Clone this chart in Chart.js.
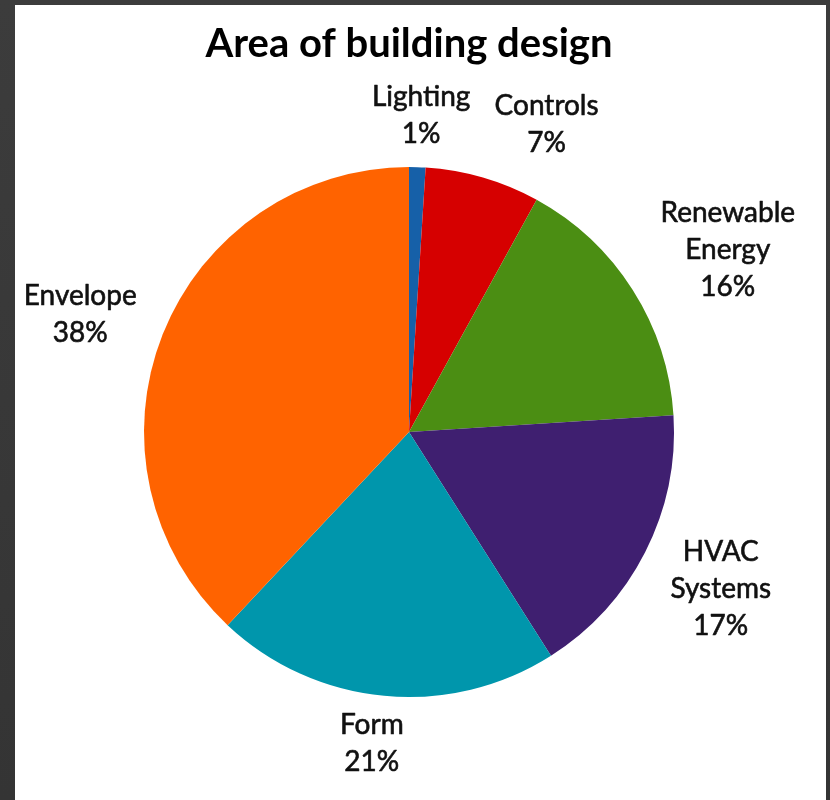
<!DOCTYPE html>
<html>
<head>
<meta charset="utf-8">
<script src="https://cdn.jsdelivr.net/npm/chart.js@4/dist/chart.umd.min.js"></script>
<style>
  html, body { margin: 0; padding: 0; }
  body { width: 830px; height: 800px; background: linear-gradient(180deg, #3c3c3c, #343434); position: relative; overflow: hidden; }
  #panel { position: absolute; left: 15px; top: 5px; width: 811px; height: 795px; background: #ffffff; }
  #chart { display: block; }
</style>
</head>
<body>
<div id="panel"><canvas id="chart" width="811" height="795"></canvas></div>
<script>
// Share of effort by area of building design (percent)
const categories = ['Lighting', 'Controls', 'Renewable Energy', 'HVAC Systems', 'Form', 'Envelope'];
const labelLines = [['Lighting'], ['Controls'], ['Renewable', 'Energy'], ['HVAC', 'Systems'], ['Form'], ['Envelope']];
const shares = [1, 7, 16, 17, 21, 38];
const sliceColors = ['#1660a8', '#d60000', '#4b8e13', '#3f1f70', '#0096ac', '#ff6300'];

// Label placement: distance beyond the rim (px) and angular nudge (deg)
const labelGap = [52, 72, 102, 84, 49, 84];
const labelTurn = [0.4, 7.9, 2.7, -0.3, 1.4, -2.0];

const labelFont = '28px Lato, "Open Sans", sans-serif';
const labelLineHeight = 37;

const outsideLabels = {
  id: 'outsideLabels',
  afterDatasetsDraw(chart) {
    const ctx = chart.ctx;
    const meta = chart.getDatasetMeta(0);
    ctx.save();
    ctx.font = labelFont;
    ctx.fillStyle = '#111111';
    ctx.strokeStyle = '#111111';
    ctx.lineWidth = 0.6;
    ctx.lineJoin = 'round';
    ctx.textAlign = 'center';
    ctx.textBaseline = 'middle';
    meta.data.forEach((arc, i) => {
      const p = arc.getProps(['x', 'y', 'startAngle', 'endAngle', 'outerRadius'], true);
      const mid = (p.startAngle + p.endAngle) / 2 + labelTurn[i] * Math.PI / 180;
      const d = p.outerRadius + labelGap[i];
      const cx = p.x + Math.cos(mid) * d;
      const cy = p.y + Math.sin(mid) * d;
      const lines = labelLines[i].concat([shares[i] + '%']);
      const top = cy - (lines.length - 1) * labelLineHeight / 2;
      lines.forEach((t, k) => {
        ctx.fillText(t, cx, top + k * labelLineHeight);
        ctx.strokeText(t, cx, top + k * labelLineHeight);
      });
    });
    ctx.restore();
  }
};

new Chart(document.getElementById('chart'), {
  type: 'pie',
  data: {
    labels: categories,
    datasets: [{
      data: shares,
      backgroundColor: sliceColors,
      borderWidth: 0
    }]
  },
  options: {
    responsive: false,
    animation: false,
    layout: { padding: { left: 129, right: 152, top: 0, bottom: 103 } },
    plugins: {
      legend: { display: false },
      tooltip: { enabled: false },
      title: {
        display: true,
        text: 'Area of building design',
        color: '#000000',
        font: { family: 'Lato, "Open Sans", sans-serif', size: 40, weight: 'bold', lineHeight: 1.2 },
        padding: { top: 15, bottom: 99 }
      }
    }
  },
  plugins: [outsideLabels]
});
</script>
</body>
</html>
